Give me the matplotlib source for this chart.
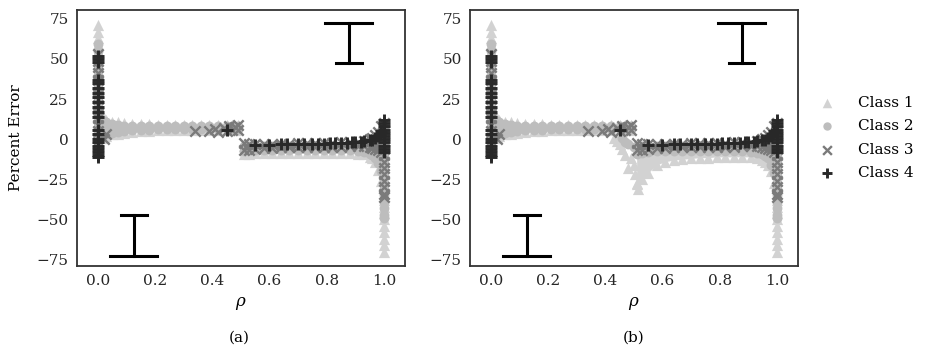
import matplotlib
matplotlib.use('Agg')
import matplotlib.pyplot as plt
import numpy as np

plt.rcParams['font.family'] = 'DejaVu Serif'
plt.rcParams['mathtext.fontset'] = 'dejavuserif'
plt.rcParams['font.size'] = 11

# class names and grey levels
classes = ['Class 1', 'Class 2', 'Class 3', 'Class 4']
colors = ['#d2d2d2', '#bdbdbd', '#7a7a7a', '#282828']

# rho grids for the two branches
RHO_L = [0.01, 0.02, 0.03, 0.05, 0.07, 0.09, 0.12, 0.15, 0.18, 0.21,
         0.24, 0.27, 0.30, 0.33, 0.36, 0.39, 0.42, 0.45, 0.47, 0.49]
RHO_R = [0.51, 0.53, 0.55, 0.58, 0.61, 0.64, 0.67, 0.70, 0.73, 0.76, 0.79,
         0.82, 0.85, 0.88, 0.91, 0.93, 0.95, 0.96, 0.97, 0.98, 0.99]

# class 1 (triangles)
C1_L_HI = [13.5, 13, 12, 11, 10.5, 10, 9.5, 9.3, 9.2, 9, 9, 9, 9, 9, 9, 9, 9, 9, 9, 9]
C1_L_LO = [1, 1.5, 2, 3, 3.5, 4, 4.5, 5, 5.3, 5.5, 5.5, 5.5, 5.5, 5.5, 5.5, 5.5, 5.5,
           5.5, 5.5, 5.5]
C1A_R_HI = [-4, -4.5, -4.5, -5, -5, -5, -5, -5, -5, -5, -5, -5, -4.5, -4.5, -4, -3, -2,
            -1, 0, 2, 5]
C1A_R_LO = [-9, -9, -8.5, -8.5, -8.5, -8.5, -8.5, -8.5, -8.5, -8.5, -8.5, -8.5, -8.5,
            -8.5, -9, -9.5, -11, -12, -14, -19, -26]
C1B_R_LO = [-28, -25, -21, -16, -14, -13, -12.5, -12, -11.5, -11.5, -11, -11, -11, -11,
            -11, -11.5, -13, -14.5, -16, -20, -27]
C1B_DIP_RHO = [0.43, 0.44, 0.45, 0.46, 0.47, 0.48, 0.49, 0.50, 0.505, 0.51, 0.515]
C1B_DIP_ERR = [1, -1, -3, -6, -10, -18, -12, -16, -22, -27, -31]
C1_COL0 = [71, 67, 63, 59, 55, 51, 47, 43, 39, 35, 31, 27, 23, 19, 15, 11, 7, 3, -1, -5, -8]
C1_COL1 = [-2, -6, -10, -14, -18, -22, -26, -30, -34, -38, -42, -46, -50, -54, -58, -62,
           -66, -70]

# class 2 (circles)
C2_L_HI = [12, 11.5, 10.5, 9.5, 9, 8.5, 8.3, 8.1, 8, 8, 8, 8, 8, 8, 8, 8, 8, 8, 8, 8]
C2_L_LO = [3, 3, 3.5, 4, 4.5, 5, 5.5, 5.8, 6, 6.2, 6.3, 6.3, 6.3, 6.3, 6.3, 6.3, 6.3,
           6.3, 6.3, 6.3]
C2_R_HI = [-4, -4, -4.5, -4.5, -4.5, -4.5, -4.5, -4.5, -4.5, -4.5, -4.5, -4.5, -4, -4,
           -3.5, -2.5, -1.5, -0.5, 0.5, 2, 4.5]
C2A_R_LO = [-7.5, -7, -7, -7, -7, -7, -7, -7, -7, -7, -7, -7, -7, -7, -7.5, -8, -9, -10,
            -11.5, -15, -20]
C2B_R_LO = [-9, -8.5, -8, -7.5, -7.5, -7.5, -7.5, -7.5, -7.5, -7.5, -7.5, -7.5, -7.5,
            -7.5, -8, -8.5, -9.5, -10.5, -12, -16, -21]
C2B_DIP_RHO = [0.46, 0.47, 0.48, 0.50]
C2B_DIP_ERR = [1, -2, -3, -5]
C2_COL0 = [59, 55, 51, 47, 43, 39, 35, 31, 27, 23, 19, 15, 11, 7, 3, -1, -5, -8]
C2_COL1 = [5, 1, -3, -7, -11, -15, -19, -23, -27, -31, -35, -39, -43, -47, -49]

# class 3 (crosses)
C3_L_RHO = [0.02, 0.03, 0.34, 0.39, 0.41, 0.42, 0.44, 0.45, 0.46, 0.47, 0.48, 0.49, 0.49]
C3_L_ERR = [0, 3, 5, 5, 6.5, 4.5, 7, 5, 8, 6, 7.5, 5.5, 9]
C3_R_HI = [-2.5, -3, -3, -3, -3, -3, -3, -2.5, -2.5, -2.5, -2.5, -2.5, -2, -2, -1.5, -1,
           0, 1, 2.5, 4.5, 8]
C3_R_LO = [-7, -6.5, -6, -5.5, -5.5, -5, -5, -5, -5, -5, -5, -5, -5, -4.5, -4.5, -4.5,
           -5, -5.5, -6, -7, -8]
C3_COL0 = [53, 49, 45, 41, 37, 33, 29, 25, 21, 17, 13, 9, 5, 1, -2, -5, -8]
C3_COL1 = [10, 6, 2, -2, -6, -10, -14, -18, -22, -26, -30, -34, -36]

# class 4 (plus)
C4_L_RHO = [0.45]
C4_L_ERR = [5.5]
C4_R_RHO = [0.55, 0.60, 0.64, 0.66, 0.70, 0.72, 0.75, 0.77, 0.79, 0.81, 0.83, 0.85,
            0.87, 0.89, 0.90, 0.92, 0.93, 0.95, 0.96, 0.97, 0.98, 0.985, 0.99]
C4_R_ERR = [-3.5, -3.5, -3.3, -3.2, -3, -3, -2.9, -2.8, -2.7, -2.6, -2.5, -2.4,
            -2.2, -2, -1.9, -1.6, -1.3, -0.8, -0.3, 0.5, 2, 3, 5]
C4_COL0 = [52, 50, 48, 37, 35, 32, 29, 26, 23, 20, 17, 14, 6, 3, 0, -2, -4, -6, -8, -10, -11]
C4_COL1 = [12, 10, 8, 6, 4, 2, 0, -2, -4, -6, -8]

# the two "I" marks
IBAR_X = [0.877, 0.126]
IBAR_LO = [47.5, -72.5]
IBAR_HI = [72.5, -47.0]

styles = [dict(marker='^', s=65, linewidths=0), dict(marker='o', s=50, linewidths=0),
          dict(marker='x', s=55, linewidths=1.7), dict(marker='+', s=75, linewidths=2.1)]


def band(ax, rho, lo, hi, i):
    ax.fill_between(rho, lo, hi, color=colors[i], lw=0, zorder=i + 1)
    ax.scatter(rho, lo, color=colors[i], zorder=i + 1, **styles[i])
    ax.scatter(rho, hi, color=colors[i], zorder=i + 1, **styles[i])


def column(ax, x, vals, i, label=None):
    ax.scatter(np.full(len(vals), x), vals, color=colors[i], zorder=i + 1,
               label=label, **styles[i])


def pts(ax, rho, err, i):
    ax.scatter(rho, err, color=colors[i], zorder=i + 1, **styles[i])


def panel(ax, c1_lo_r, c2_lo_r, dip):
    band(ax, RHO_L, C1_L_LO, C1_L_HI, 0)
    band(ax, RHO_R, c1_lo_r, C1A_R_HI, 0)
    column(ax, 0.0, C1_COL0, 0, classes[0])
    column(ax, 1.0, C1_COL1, 0)
    band(ax, RHO_L, C2_L_LO, C2_L_HI, 1)
    band(ax, RHO_R, c2_lo_r, C2_R_HI, 1)
    column(ax, 0.0, C2_COL0, 1, classes[1])
    column(ax, 1.0, C2_COL1, 1)
    if dip:
        pts(ax, C1B_DIP_RHO, C1B_DIP_ERR, 0)
        pts(ax, C2B_DIP_RHO, C2B_DIP_ERR, 1)
    pts(ax, C3_L_RHO, C3_L_ERR, 2)
    band(ax, RHO_R, C3_R_LO, C3_R_HI, 2)
    column(ax, 0.0, C3_COL0, 2, classes[2])
    column(ax, 1.0, C3_COL1, 2)
    pts(ax, C4_L_RHO, C4_L_ERR, 3)
    pts(ax, C4_R_RHO, C4_R_ERR, 3)
    column(ax, 0.0, C4_COL0, 3, classes[3])
    column(ax, 1.0, C4_COL1, 3)

    # "I" marks: upper one has wide top cap, lower one wide bottom cap
    for x, lo, hi, wide_top in zip(IBAR_X, IBAR_LO, IBAR_HI, [True, False]):
        wt, wb = (0.082, 0.045) if wide_top else (0.045, 0.082)
        ax.plot([x, x], [lo, hi], color='k', lw=2.2, zorder=6)
        ax.plot([x - wt, x + wt], [hi, hi], color='k', lw=2.2, zorder=6)
        ax.plot([x - wb, x + wb], [lo, lo], color='k', lw=2.2, zorder=6)

    ax.set_xlim(-0.073, 1.074)
    ax.set_ylim(-79, 80.5)
    ax.set_xticks([0.0, 0.2, 0.4, 0.6, 0.8, 1.0])
    ax.set_yticks([-75, -50, -25, 0, 25, 50, 75])
    ax.tick_params(length=0, pad=6, labelsize=11, colors='#262626')
    for s in ax.spines.values():
        s.set_color('#333333')
        s.set_linewidth(1.3)
    ax.set_xlabel(r'$\rho$', fontsize=12, labelpad=5)


fig = plt.figure(figsize=(9.36, 3.57), dpi=100)
ax1 = fig.add_axes([0.0823, 0.255, 0.3504, 0.717])
ax2 = fig.add_axes([0.5021, 0.255, 0.3504, 0.717])

panel(ax1, C1A_R_LO, C2A_R_LO, False)
panel(ax2, C1B_R_LO, C2B_R_LO, True)
ax1.set_ylabel('Percent Error', fontsize=11, labelpad=10)

fig.text(0.256, 0.053, '(a)', ha='center', va='center', fontsize=11)
fig.text(0.677, 0.053, '(b)', ha='center', va='center', fontsize=11)

leg = ax2.legend(loc='center left', bbox_to_anchor=(1.0, 0.5), frameon=False,
                 labelspacing=0.6, handletextpad=1.0, fontsize=11,
                 scatterpoints=1, markerscale=0.85)

fig.savefig('out.png', dpi=100)
